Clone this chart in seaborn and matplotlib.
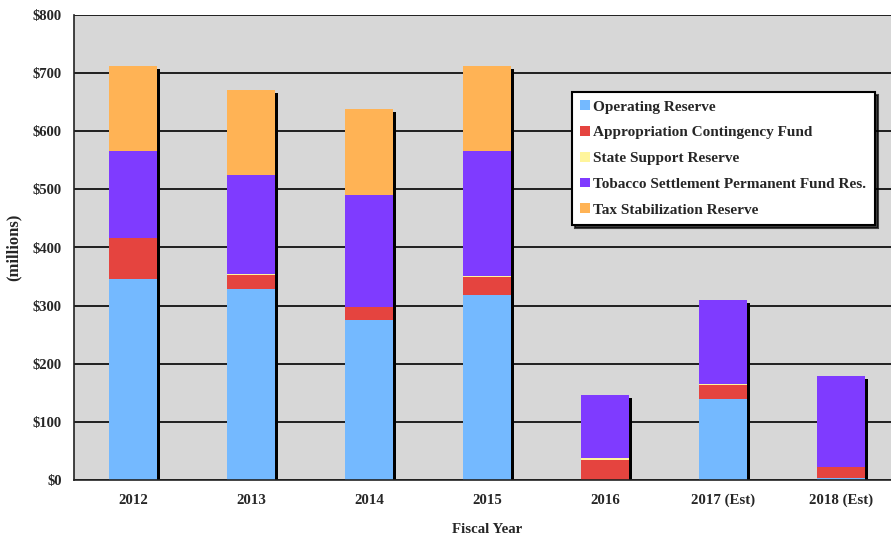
import matplotlib
matplotlib.use("Agg")
import matplotlib.pyplot as plt
import matplotlib.transforms as mtransforms
import seaborn as sns
import pandas as pd
import numpy as np

# Reserve balances by fiscal year ($ millions)
years = ["2012", "2013", "2014", "2015", "2016", "2017 (Est)", "2018 (Est)"]
operating_reserve = [346, 328, 276, 319, 0, 139, 4]
appropriation_contingency = [70, 25, 21, 30, 35, 24, 19]
state_support_reserve = [0, 2, 0, 2, 2, 2, 0]
tobacco_settlement = [150, 170, 194, 215, 110, 145, 156]
tax_stabilization = [146, 146, 147, 146, 0, 0, 0]

series_names = [
    "Operating Reserve",
    "Appropriation Contingency Fund",
    "State Support Reserve",
    "Tobacco Settlement Permanent Fund Res.",
    "Tax Stabilization Reserve",
]
series_colors = ["#74B9FF", "#E5443F", "#FFF59C", "#7F3BFF", "#FFB355"]

y_ticks = [0, 100, 200, 300, 400, 500, 600, 700, 800]
y_tick_labels = ["$0", "$100", "$200", "$300", "$400", "$500", "$600", "$700", "$800"]

df = pd.DataFrame({
    "year": years,
    series_names[0]: operating_reserve,
    series_names[1]: appropriation_contingency,
    series_names[2]: state_support_reserve,
    series_names[3]: tobacco_settlement,
    series_names[4]: tax_stabilization,
})
cum = df[series_names].cumsum(axis=1)
cum["year"] = df["year"]

sns.set_style("white")
plt.rcParams["font.family"] = ["Liberation Serif", "DejaVu Serif"]
plt.rcParams["font.weight"] = "bold"

fig = plt.figure(figsize=(8.91, 5.36), dpi=100)
W, H = 891, 536
ax = fig.add_axes([74 / W, 56 / H, 826 / W, 465 / H])
ax.set_facecolor("#D7D7D7")

bar_w = 0.41

# drop shadow behind each stack
sns.barplot(data=cum, x="year", y=series_names[-1], color="black",
            width=bar_w, errorbar=None, ax=ax, saturation=1, linewidth=0)
shadow_off = mtransforms.ScaledTranslation(3 / 100, -3 / 100, fig.dpi_scale_trans)
for p in list(ax.patches):
    p.set_transform(ax.transData + shadow_off)
    p.set_zorder(1.5)

# stacked segments, drawn from the top layer down
for name, color in reversed(list(zip(series_names, series_colors))):
    sns.barplot(data=cum, x="year", y=name, color=color, width=bar_w,
                errorbar=None, ax=ax, saturation=1, linewidth=0, zorder=2)

ax.set_xlim(-0.5, len(years) - 0.5)
ax.set_ylim(0, 800)
ax.set_yticks(y_ticks)
ax.set_yticklabels(y_tick_labels, fontsize=10.5, fontweight="bold")
ax.set_xticks(range(len(years)))
ax.set_xticklabels(years, fontsize=10.7, fontweight="bold")
ax.set_xticks(np.arange(len(years) + 1) - 0.5, minor=True)
ax.tick_params(axis="x", which="major", length=0, pad=10)
ax.tick_params(axis="x", which="minor", length=5, width=1, color="#333333", direction="out")
ax.tick_params(axis="y", which="major", length=5, width=1, color="#333333", direction="out", pad=4)

ax.yaxis.grid(True, color="black", linewidth=1.2)
ax.xaxis.grid(False)
ax.set_axisbelow(True)
for s in ["left", "bottom"]:
    ax.spines[s].set_color("#222222")
    ax.spines[s].set_linewidth(1.2)
ax.spines["top"].set_visible(False)
ax.spines["right"].set_visible(False)

ax.set_xlabel("Fiscal Year", fontsize=10.7, fontweight="bold", labelpad=11)
ax.set_ylabel("(millions)", fontsize=12, fontweight="bold")
ax.yaxis.set_label_coords(-52 / 826, 0.5)

handles = [plt.Rectangle((0, 0), 1, 1, facecolor=c, edgecolor="none") for c in series_colors]
leg = fig.legend(handles, series_names, loc="upper left",
                 bbox_to_anchor=(572 / W, 1 - 92 / H),
                 prop={"family": "Liberation Serif", "weight": "bold", "size": 11},
                 frameon=True, fancybox=False,
                 shadow={"color": "black", "alpha": 0.7},
                 handlelength=0.6, handleheight=0.6, handletextpad=0.25,
                 labelspacing=0.82, borderpad=0.55, borderaxespad=0)
leg.get_frame().set_edgecolor("black")
leg.get_frame().set_linewidth(1.5)
leg.get_frame().set_facecolor("white")
leg.get_frame().set_alpha(1)

fig.savefig("out.png", dpi=100)
